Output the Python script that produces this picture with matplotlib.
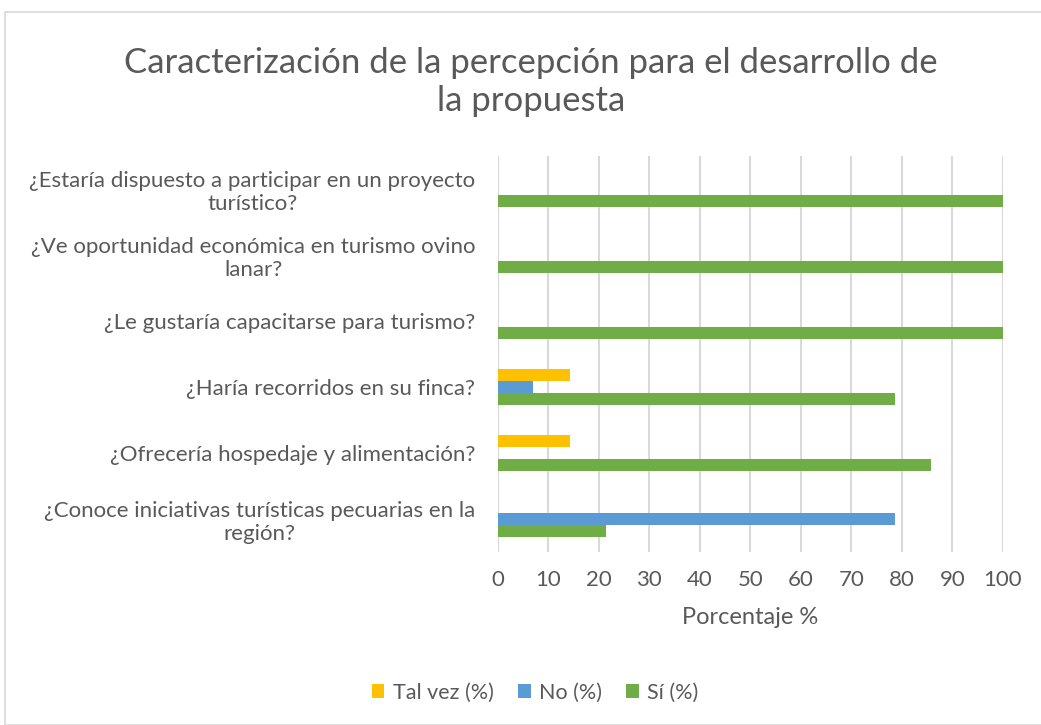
import numpy as np
import matplotlib
matplotlib.use("Agg")
import matplotlib.pyplot as plt
from matplotlib.patches import Rectangle

# categories from bottom to top (as drawn)
categories = [
    "¿Conoce iniciativas turísticas pecuarias en la\nregión?",
    "¿Ofrecería hospedaje y alimentación?",
    "¿Haría recorridos en su finca?",
    "¿Le gustaría capacitarse para turismo?",
    "¿Ve oportunidad económica en turismo ovino\nlanar?",
    "¿Estaría dispuesto a participar en un proyecto\nturístico?",
]
si_pct = [21.4, 85.7, 78.6, 100, 100, 100]
no_pct = [78.6, 0, 7.1, 0, 0, 0]
talvez_pct = [0, 14.3, 14.3, 0, 0, 0]
x_ticks = [0, 10, 20, 30, 40, 50, 60, 70, 80, 90, 100]

GREY = "#595959"
plt.rcParams["font.family"] = ["Lato", "DejaVu Sans"]

fig = plt.figure(figsize=(10.41, 7.25), dpi=100)
ax = fig.add_axes([0.478, 0.2386, 0.4855, 0.5462])

# chart border
fig.patches.append(Rectangle((5 / 1041, 0), 1.0, 1 - 12 / 725, transform=fig.transFigure,
                             fill=False, edgecolor="#D9D9D9", linewidth=1.2))

y = np.arange(len(categories))
h = 0.185
ax.barh(y - h, si_pct, height=h, color="#70AD47", label="Sí (%)", zorder=3)
ax.barh(y, no_pct, height=h, color="#5B9BD5", label="No (%)", zorder=3)
ax.barh(y + h, talvez_pct, height=h, color="#FFC000", label="Tal vez (%)", zorder=3)

ax.set_ylim(-0.5, len(categories) - 0.5)
ax.set_xlim(0, 100)
ax.set_xticks(x_ticks)
ax.set_yticks(y)
ax.set_yticklabels(categories, multialignment="center")
ax.tick_params(axis="both", length=0, labelsize=16, colors=GREY)
ax.tick_params(axis="x", pad=13)
ax.tick_params(axis="y", pad=16)
ax.grid(axis="x", color="#D9D9D9", linewidth=1.5, zorder=0)
for s in ax.spines.values():
    s.set_visible(False)

ax.set_xlabel("Porcentaje %", fontsize=17, color=GREY, labelpad=12)

fig.text(0.51, 0.887, "Caracterización de la percepción para el desarrollo de\nla propuesta",
         ha="center", va="center", fontsize=25, color=GREY, linespacing=1.26)

handles, labels = ax.get_legend_handles_labels()
order = [2, 1, 0]
fig.legend([handles[i] for i in order], [labels[i] for i in order],
           loc="center", bbox_to_anchor=(0.514, 0.045), ncol=3, frameon=False,
           fontsize=15.5, labelcolor=GREY, handlelength=0.6, handleheight=0.6,
           columnspacing=1.1, handletextpad=0.4)

fig.savefig("out.png", dpi=100)
